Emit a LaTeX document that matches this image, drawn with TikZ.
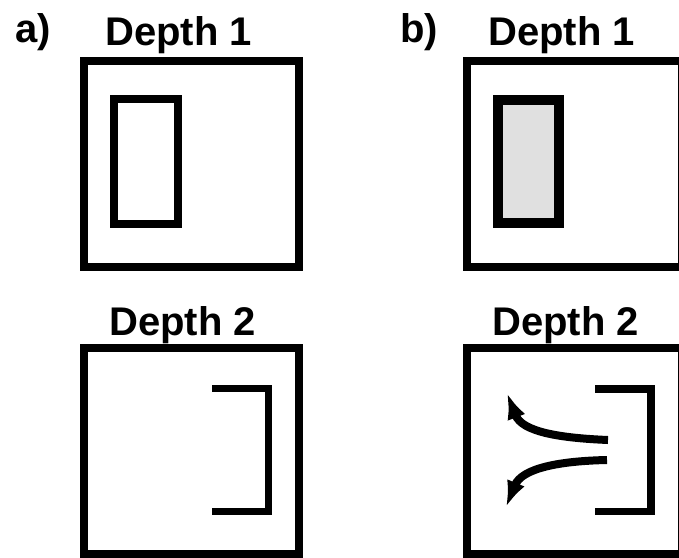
\documentclass[tikz,border=0pt]{standalone}
\usepackage{fontspec}
\setmainfont{Liberation Sans}
\usetikzlibrary{arrows.meta}

\begin{document}
\begin{tikzpicture}[x=0.5pt, y=-0.5pt,
	every node/.style={font=\bfseries\fontsize{20}{24}\selectfont, inner sep=0pt},
	frame/.style={draw, line width=4.4pt, minimum width=107.5pt, minimum height=103pt},
	wall/.style={line width=3.8pt},
	flow/.style={line width=4pt, -{Latex[length=13pt, width=9.5pt]}}]
	\useasboundingbox (0,0) rectangle (679,557);
	\clip (0,0) rectangle (679,557);
	\node[anchor=base west] (lab-a) at (15,42) {a)};
	\node[anchor=base west] (lab-b) at (400,42) {b)};
	\foreach \p/\x in {a/84, b/467} {
		\node[frame] (top-\p) at (\x+107.5,164) {};
		\node[anchor=base] (title-top-\p) at (\x+94.5,45) {Depth 1};
		\node[frame] (bot-\p) at (\x+107.5,451) {};
		\node[anchor=base] (title-bot-\p) at (\x+98.5,335) {Depth 2};
	}
	% depth 1: obstacle
	\draw[wall] (114,99) rectangle (178,224);
	\draw[wall, line width=4.8pt, fill=black!12] (498,100) rectangle (559,223);
	% depth 2: open box
	\draw[wall] (212,388.5) -| (268.5,511.5) -- (212,511.5);
	\draw[wall] (595,389) -| (651,511.5) -- (595,511.5);
	\draw[flow] (608,440) .. controls (560,438) and (522,432) .. (507,393);
	\draw[flow] (607,460) .. controls (560,461) and (522,468) .. (506,507);
\end{tikzpicture}
\end{document}
